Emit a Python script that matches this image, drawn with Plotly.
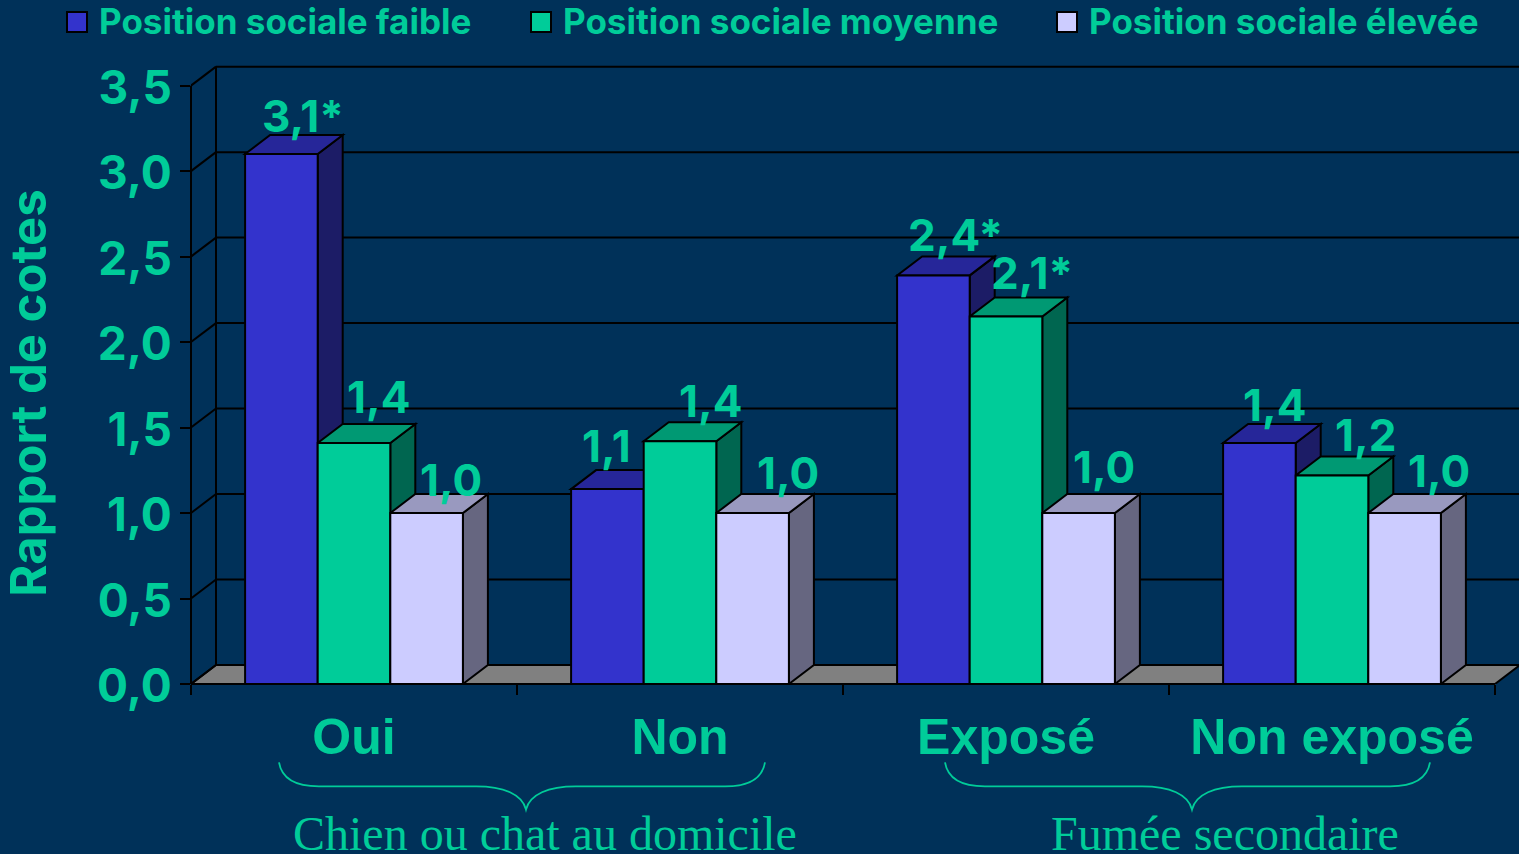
import plotly.graph_objects as go

CATEGORIES = ["Oui", "Non", "Exposé", "Non exposé"]
SERIES = ["Position sociale faible", "Position sociale moyenne", "Position sociale élevée"]
FAIBLE = [3.10, 1.14, 2.39, 1.41]
MOYENNE = [1.41, 1.42, 2.15, 1.22]
ELEVEE = [1.00, 1.00, 1.00, 1.00]
LABELS_FAIBLE = ["3,1*", "1,1", "2,4*", "1,4"]
LABELS_MOYENNE = ["1,4", "1,4", "2,1*", "1,2"]
LABELS_ELEVEE = ["1,0", "1,0", "1,0", "1,0"]
Y_TICKS = [0, 0.5, 1, 1.5, 2, 2.5, 3, 3.5]
Y_TICK_TEXT = ["0,0", "0,5", "1,0", "1,5", "2,0", "2,5", "3,0", "3,5"]
GROUPS = [("Chien ou chat au domicile", 545, 279, 765, 526),
          ("Fumée secondaire", 1225, 945, 1430, 1192)]

# style
BG = "#003159"
TXT = "#00CC99"
FRONT = ["#3333CC", "#00CC99", "#CCCCFF"]
SIDE = ["#1C1C66", "#006650", "#666680"]
TOP = ["#262699", "#009973", "#9999BF"]
FLOOR = "#808080"
SANS = "Inter"
ARIAL = "Liberation Sans"
SERIF = "Liberation Serif"
WEIGHT = "bold"

# layout geometry (pixels)
W, H = 1519, 854
LEFT, BASE, TOP_PX = 191, 684.5, 60
PX_X, PX_Y = 326.0, 171.1
DEPTH_X, DEPTH_Y = 25 / PX_X, 19 / PX_Y
BAR_W = 72.6 / PX_X
XMAX = (W - LEFT) / PX_X
YMAX = (BASE - TOP_PX) / PX_Y
LABEL_DX = [[22, -1, 22, 15], [24, 30, 26, 33], [24, 35, 25, 34]]
LABEL_DY = [[38, 43, 40, 38], [46, 40, 43, 40], [33, 40, 46, 42]]

VALUES = [FAIBLE, MOYENNE, ELEVEE]
LABELS = [LABELS_FAIBLE, LABELS_MOYENNE, LABELS_ELEVEE]
centres = [i + 0.5 for i in range(len(CATEGORIES))]


def px(x):
    return (x - LEFT) / (W - LEFT)


def py(y):
    return (BASE - y) / (BASE - TOP_PX)


def poly(pts, fill, lw=2, layer="below"):
    path = "M" + " L".join(f"{a},{b}" for a, b in pts) + " Z"
    return dict(type="path", path=path, fillcolor=fill, layer=layer,
                line=dict(color="black", width=lw))


def seg(x0, y0, x1, y1, lw=2):
    return dict(type="line", x0=x0, y0=y0, x1=x1, y1=y1, layer="below",
                line=dict(color="black", width=lw))


shapes = [poly([(0, 0), (4, 0), (4 + DEPTH_X, DEPTH_Y), (DEPTH_X, DEPTH_Y)], FLOOR, 2)]
for t in Y_TICKS[1:]:
    shapes.append(seg(DEPTH_X, t + DEPTH_Y, XMAX, t + DEPTH_Y))
for t in Y_TICKS:
    shapes.append(seg(0, t, DEPTH_X, t + DEPTH_Y))
shapes.append(seg(DEPTH_X, DEPTH_Y, DEPTH_X, Y_TICKS[-1] + DEPTH_Y))

for c_i, c in enumerate(centres):
    for s_i, vals in enumerate(VALUES):
        v = vals[c_i]
        x0 = c + (s_i - 1.5) * BAR_W
        x1 = x0 + BAR_W
        shapes.append(poly([(x1, 0), (x1 + DEPTH_X, DEPTH_Y), (x1 + DEPTH_X, v + DEPTH_Y), (x1, v)], SIDE[s_i]))
        shapes.append(poly([(x0, v), (x1, v), (x1 + DEPTH_X, v + DEPTH_Y), (x0 + DEPTH_X, v + DEPTH_Y)], TOP[s_i]))

shapes.append(dict(type="line", xref="paper", yref="y", x0=0, x1=0, y0=0, y1=Y_TICKS[-1],
                   layer="above", line=dict(color="black", width=2)))
shapes.append(dict(type="line", xref="x", yref="paper", x0=0, x1=4, y0=0, y1=0,
                   layer="above", line=dict(color="black", width=2)))

# braces
for _, _, bl, br, bm in GROUPS:
    ytop, ymid, ytip = 763, 787, 810
    path = (f"M{px(bl)},{py(ytop)} C{px(bl+3)},{py(ymid-6)} {px(bl+20)},{py(ymid)} {px(bl+40)},{py(ymid)} "
            f"L{px(bm-50)},{py(ymid)} C{px(bm-22)},{py(ymid)} {px(bm-4)},{py(ymid+8)} {px(bm)},{py(ytip)} "
            f"C{px(bm+4)},{py(ymid+8)} {px(bm+22)},{py(ymid)} {px(bm+50)},{py(ymid)} "
            f"L{px(br-40)},{py(ymid)} C{px(br-20)},{py(ymid)} {px(br-3)},{py(ymid-6)} {px(br)},{py(ytop)}")
    shapes.append(dict(type="path", xref="paper", yref="paper", path=path, layer="above",
                       line=dict(color=TXT, width=1.8)))

annotations = []
for s_i, vals in enumerate(VALUES):
    for c_i, v in enumerate(vals):
        annotations.append(dict(x=centres[c_i] + (s_i - 1) * BAR_W, y=v, text=LABELS[s_i][c_i],
                                showarrow=False, xanchor="center", yanchor="middle",
                                xshift=LABEL_DX[s_i][c_i], yshift=LABEL_DY[s_i][c_i],
                                font=dict(family=SANS, size=44, color=TXT, weight=WEIGHT)))

# legend
for i, (name, sq) in enumerate(zip(SERIES, [67, 531, 1057])):
    shapes.append(dict(type="rect", xref="paper", yref="paper", x0=px(sq), x1=px(sq + 20),
                       y0=py(32), y1=py(12), fillcolor=FRONT[i], layer="above",
                       line=dict(color="black", width=2)))
    annotations.append(dict(xref="paper", yref="paper", x=px(sq + 30), y=py(21), text=name,
                            showarrow=False, xanchor="left", yanchor="middle",
                            font=dict(family=SANS, size=35, color=TXT, weight=WEIGHT)))

annotations.append(dict(xref="paper", yref="paper", x=px(29), y=py(394), text="Rapport de cotes",
                        textangle=-90, showarrow=False, xanchor="center", yanchor="middle",
                        font=dict(family=SANS, size=49, color=TXT, weight=WEIGHT)))
for text, cx, *_ in GROUPS:
    annotations.append(dict(xref="paper", yref="paper", x=px(cx), y=py(834), text=text,
                            showarrow=False, xanchor="center", yanchor="middle",
                            font=dict(family=SERIF, size=48, color=TXT)))

fig = go.Figure()
for s_i, vals in enumerate(VALUES):
    fig.add_trace(go.Bar(x=centres, y=vals, name=SERIES[s_i], cliponaxis=False,
                         marker=dict(color=FRONT[s_i], line=dict(color="black", width=2)),
                         hoverinfo="x+y"))

fig.update_layout(
    width=W, height=H, showlegend=False, barmode="group",
    bargap=1 - 3 * BAR_W, bargroupgap=0,
    paper_bgcolor=BG, plot_bgcolor=BG,
    margin=dict(l=LEFT, r=0, t=TOP_PX, b=H - BASE, pad=0),
    shapes=shapes, annotations=annotations,
    xaxis=dict(range=[0, XMAX], tickvals=centres, ticktext=CATEGORIES, ticks="",
               showgrid=False, zeroline=False, showline=False, ticklabelstandoff=19,
               tickfont=dict(family=ARIAL, size=50, color=TXT, weight="bold"),
               minor=dict(tickvals=[0, 1, 2, 3, 4], ticks="outside", ticklen=10, tickwidth=2,
                          tickcolor="black", showgrid=False)),
    yaxis=dict(range=[0, YMAX], tickvals=Y_TICKS, ticktext=Y_TICK_TEXT, ticks="outside",
               ticklen=10, tickwidth=2, tickcolor="black", showgrid=False, zeroline=False,
               showline=False, ticklabelshift=2, ticklabelstandoff=-1,
               tickfont=dict(family=SANS, size=46, color=TXT, weight=WEIGHT)),
)

fig.write_html("out.html", config={"displayModeBar": False},
               post_script="document.body.style.margin='0';document.body.style.overflow='hidden';")
